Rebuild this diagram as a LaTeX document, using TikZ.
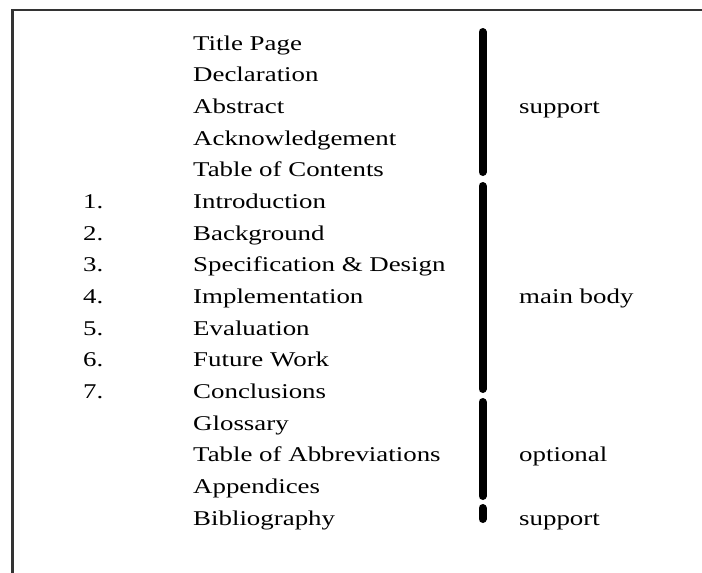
\documentclass[tikz,border=0pt]{standalone}
\usepackage{fontspec}
\setmainfont{Liberation Serif}[FakeStretch=1.28]
\tikzset{
    IT/.style ={anchor=base west, inner sep=0pt, font=\fontsize{21}{25}\selectfont},
    NR/.style ={anchor=base west, inner sep=0pt, font=\fontsize{21}{25}\selectfont},
    LB/.style ={anchor=base west, inner sep=0pt, font=\fontsize{21}{25}\selectfont},
    BR/.style ={line width=8pt, line cap=round},
    FR/.style ={line width=2.5pt, black!80}}
\begin{document}
\begin{tikzpicture}[x=1pt,y=-1pt]
        \useasboundingbox (0,0) rectangle (702,573);
        % frame
        \coordinate (fa) at (12.5,580);
        \coordinate (fb) at (12.5,10);
        \coordinate (fc) at (710,10);
        \draw[FR] (fa) -- (fb) -- (fc);
        % items
        \node[IT] (t1) at (193,50){Title Page};
        \node[IT] (t2) at (193,81.7){Declaration};
        \node[IT] (t3) at (193,113.3){Abstract};
        \node[IT] (t4) at (193,145){Acknowledgement};
        \node[IT] (t5) at (193,176.7){Table of Contents};
        \node[IT] (t6) at (193,208.3){Introduction};
        \node[IT] (t7) at (193,240){Background};
        \node[IT] (t8) at (193,271.7){Specification \& Design};
        \node[IT] (t9) at (193,303.3){Implementation};
        \node[IT] (t10) at (193,335){Evaluation};
        \node[IT] (t11) at (193,366.7){Future Work};
        \node[IT] (t12) at (193,398.3){Conclusions};
        \node[IT] (t13) at (193,430){Glossary};
        \node[IT] (t14) at (193,461.7){Table of Abbreviations};
        \node[IT] (t15) at (193,493.3){Appendices};
        \node[IT] (t16) at (193,525){Bibliography};
        % chapter numbers
        \node[NR] (n1) at (83,208.3){1.};
        \node[NR] (n2) at (83,240){2.};
        \node[NR] (n3) at (83,271.7){3.};
        \node[NR] (n4) at (83,303.3){4.};
        \node[NR] (n5) at (83,335){5.};
        \node[NR] (n6) at (83,366.7){6.};
        \node[NR] (n7) at (83,398.3){7.};
        % group labels
        \node[LB] (l1) at (519,113.3){support};
        \node[LB] (l2) at (519,303.3){main body};
        \node[LB] (l3) at (519,461.7){optional};
        \node[LB] (l4) at (519,525){support};
        % bars
        \coordinate (b1a) at (482.5,32);
        \coordinate (b1b) at (482.5,172);
        \coordinate (b2a) at (482.5,186);
        \coordinate (b2b) at (482.5,389);
        \coordinate (b3a) at (482.5,402);
        \coordinate (b3b) at (482.5,496);
        \coordinate (b4a) at (482.5,508);
        \coordinate (b4b) at (482.5,519);
        \draw[BR] (b1a) -- (b1b);
        \draw[BR] (b2a) -- (b2b);
        \draw[BR] (b3a) -- (b3b);
        \draw[BR] (b4a) -- (b4b);
    \end{tikzpicture}
\end{document}
